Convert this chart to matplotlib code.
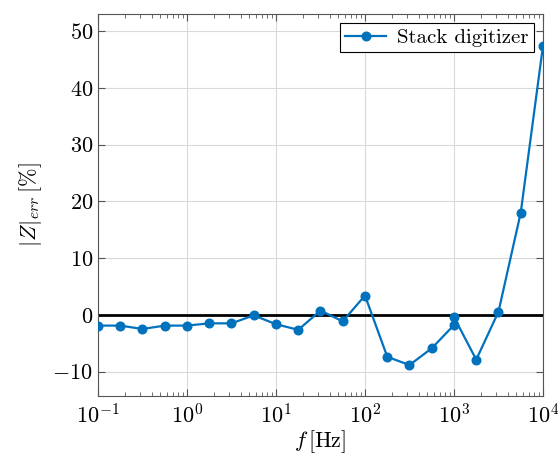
import numpy as np
import matplotlib
matplotlib.use("Agg")
import matplotlib.pyplot as plt

plt.rcParams['font.family'] = 'cmr10'
plt.rcParams['mathtext.fontset'] = 'cm'
plt.rcParams['axes.formatter.use_mathtext'] = True
plt.rcParams['axes.unicode_minus'] = True

# frequency sweep, 4 points per decade (1 kHz measured twice)
freq = [0.1, 0.178, 0.316, 0.562, 1.0, 1.78, 3.16, 5.62, 10.0, 17.8, 31.6, 56.2,
        100.0, 178.0, 316.0, 562.0, 1000.0, 1000.0, 1778.0, 3162.0, 5623.0, 10000.0]
z_err = [-1.9, -1.9, -2.5, -1.9, -1.9, -1.5, -1.5, -0.1, -1.65, -2.65, 0.75, -1.15,
         3.4, -7.4, -8.85, -5.9, -1.8, -0.4, -7.9, 0.55, 18.0, 47.4]

yticks = [-10, 0, 10, 20, 30, 40, 50]

fig = plt.figure(figsize=(5.58, 4.59), dpi=100)
ax = fig.add_axes([0.1756, 0.1373, 0.7975, 0.8322])

ax.axhline(0, color='black', lw=2, zorder=2)
ax.plot(freq, z_err, color='#0072BD', lw=1.6, marker='o', ms=6.2, zorder=3,
        label='Stack digitizer')

ax.set_xscale('log')
ax.set_xlim(0.1, 1e4)
ax.set_ylim(-14.3, 53.0)
ax.set_yticks(yticks)

ax.grid(True, which='major', color='#d9d9d9', lw=0.8)
ax.set_axisbelow(True)
ax.tick_params(which='both', direction='in', top=True, right=True, color='#555555',
               labelsize=16)
ax.tick_params(which='major', length=5)
ax.tick_params(which='minor', length=3)
ax.tick_params(axis='x', pad=5)
for s in ax.spines.values():
    s.set_color('#555555')

ax.set_xlabel(r'$f\,[\mathrm{Hz}]$', fontsize=16, labelpad=1)
ax.set_ylabel(r'$|Z|_{err}\,[\%]$', fontsize=16, labelpad=6)

leg = ax.legend(loc='upper right', fontsize=15, fancybox=False, edgecolor='black',
                framealpha=1, handlelength=2, handletextpad=0.5,
                borderaxespad=0.45, borderpad=0.25)
leg.get_frame().set_linewidth(0.8)

fig.savefig('out.png', dpi=100)
